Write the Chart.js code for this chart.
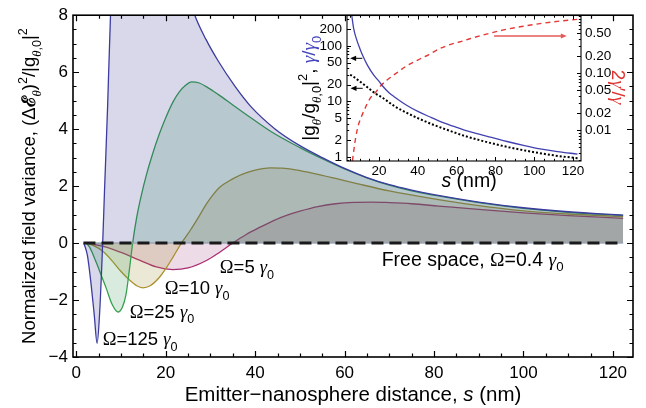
<!DOCTYPE html>
<html><head><meta charset="utf-8">
<script src="https://cdn.jsdelivr.net/npm/chart.js@4.4.1/dist/chart.umd.min.js"></script>
<style>
html,body{margin:0;padding:0;background:#fff;}
#wrap{position:relative;width:646px;height:408px;}
canvas{position:absolute;left:0;top:0;}
</style></head><body>
<div id="wrap"><canvas id="main" width="646" height="408"></canvas><canvas id="inset" width="646" height="408"></canvas></div>
<script>
// ---------------- main panel data ----------------
const mainXTicks = [0, 20, 40, 60, 80, 100, 120];
const mainYTicks = [-4, -2, 0, 2, 4, 6, 8];

const sFree = [1.6, 122.3];
const vFree = [0, 0];

const sW125 = [1.7, 2.5, 3.2, 4.0, 4.65, 5.2, 5.9, 6.3, 7.0, 7.65, 8.5, 10, 13, 16, 20, 23, 26.5, 29, 31.7, 35.5, 39, 44.5, 50, 55, 60, 65, 70, 75, 80, 90, 100, 110, 122.3];
const vW125 = [0, -0.45, -1.3, -2.5, -3.52, -2.5, 0, 1.8, 4.8, 8, 10.5, 12.5, 13.5, 13, 11.5, 9.8, 8, 7.15, 6.4, 5.5, 4.8, 4.0, 3.42, 3.0, 2.62, 2.3, 2.05, 1.86, 1.7, 1.44, 1.24, 1.1, 0.98];

const sW25 = [2.2, 3, 4.4, 5.5, 6.7, 8, 9.3, 10.3, 11.1, 11.9, 12.6, 13.5, 14.5, 15.6, 17, 18.5, 20, 21.6, 23, 24.5, 25.8, 27.5, 29.5, 31.7, 35, 39.2, 43.7, 50, 55, 60, 65, 70, 75, 80, 90, 100, 110, 122.3];
const vW25 = [0, -0.15, -0.66, -1.1, -1.59, -2.15, -2.42, -2.25, -1.82, -0.9, 0, 0.9, 1.65, 2.35, 3.1, 3.8, 4.4, 4.95, 5.3, 5.55, 5.66, 5.62, 5.45, 5.22, 4.85, 4.38, 3.9, 3.35, 2.96, 2.6, 2.29, 2.03, 1.83, 1.68, 1.42, 1.22, 1.08, 0.97];

const sW10 = [2, 4, 6, 8.2, 10, 11.9, 13.5, 14.9, 16.5, 18.6, 20.2, 21.6, 23.5, 25.5, 27.6, 29, 30.6, 32, 33.5, 35.5, 38.1, 40.5, 43.3, 46, 49, 53, 58, 63, 70, 80, 88.8, 100, 110, 122.3];
const vW10 = [0, -0.1, -0.3, -0.66, -1.0, -1.3, -1.5, -1.57, -1.5, -1.2, -0.85, -0.5, 0, 0.45, 0.98, 1.35, 1.7, 1.95, 2.12, 2.3, 2.47, 2.58, 2.64, 2.63, 2.57, 2.45, 2.27, 2.08, 1.83, 1.55, 1.34, 1.13, 1.02, 0.93];

const sW5 = [2, 4, 6.7, 10, 14.1, 17.9, 21.6, 25, 29, 32, 35, 38, 41, 44, 47, 50, 54, 58, 62, 66, 70, 75, 81, 90, 100, 110, 122.3];
const vW5 = [0, -0.05, -0.14, -0.33, -0.6, -0.84, -0.93, -0.87, -0.62, -0.33, 0, 0.3, 0.55, 0.78, 0.97, 1.12, 1.28, 1.38, 1.43, 1.44, 1.42, 1.38, 1.3, 1.18, 1.06, 0.96, 0.87];

// ---------------- inset data ----------------
const insetXTicks = [20, 40, 60, 80, 100, 120];
const insetLeftTicks = [1, 2, 5, 10, 20, 50, 100, 200];
const insetRightTicks = [0.01, 0.02, 0.05, 0.1, 0.2, 0.5];
const insetRightLabels = ['0.01', '0.02', '0.05', '0.10', '0.20', '0.50'];

const sGamma = [5.7, 6, 7, 8.6, 10.2, 12, 14, 17.2, 19.7, 21.5, 25, 28, 34, 40, 46, 52, 58, 64, 70, 78, 86, 95, 103, 112, 122.3];
const vGamma = [400, 340, 200, 125, 88, 62, 45, 30, 23.6, 19.5, 14.5, 12, 8.6, 6.6, 5.3, 4.3, 3.6, 3.05, 2.65, 2.25, 1.9, 1.6, 1.4, 1.25, 1.13];

const sCoupling = [5.1, 6, 10, 14, 18, 22, 28, 34, 40, 48, 56, 64, 72, 80, 90, 100, 110, 122.3];
const vCoupling = [30, 29, 23, 18, 14, 11.5, 8.2, 6.3, 5.0, 3.8, 3.0, 2.4, 2.0, 1.7, 1.42, 1.22, 1.07, 0.95];

const sRatio = [6.3, 8, 9.4, 10.2, 12.5, 15.4, 18, 20.5, 24, 28.4, 34.4, 40, 45.5, 51.4, 57, 63.6, 68.7, 77, 85.9, 95, 103, 112, 122.3];
const vRatio = [0.0029, 0.0075, 0.0125, 0.015, 0.023, 0.036, 0.045, 0.058, 0.075, 0.097, 0.135, 0.17, 0.21, 0.27, 0.32, 0.37, 0.42, 0.5, 0.59, 0.67, 0.74, 0.81, 0.88];

// arrows: [s0, v0, s1, v1] in data units
const arrowGamma = [11.4, 59.6, 5.1, 59.6];
const arrowCoupling = [11.6, 17.2, 5.3, 17.2];
const arrowRatio = [79.3, 0.448, 116.8, 0.448];

// ---------------- helpers ----------------
const FS = '"Liberation Sans", Arial, sans-serif';
const FR = '"Liberation Serif", "Times New Roman", serif';
const toXY = (xs, ys) => xs.map((x, i) => ({x: x, y: ys[i]}));

function fontStr(seg, size) {
  const sz = (seg.sub || seg.sup) ? size * 0.68 : size;
  return (seg.it ? 'italic ' : '') + (seg.b ? 'bold ' : '') + sz.toFixed(1) + 'px ' + (seg.serif ? FR : (seg.dv ? '"DejaVu Serif", serif' : FS));
}
function drawRich(ctx, segs, x, y, size, align, rot) {
  ctx.save();
  ctx.translate(x, y);
  if (rot) ctx.rotate(rot);
  let w = 0;
  segs.forEach(s => { ctx.font = fontStr(s, size); s._w = ctx.measureText(s.t).width; w += s._w; });
  let cx = align === 'center' ? -w / 2 : 0;
  ctx.textBaseline = 'alphabetic';
  ctx.textAlign = 'left';
  segs.forEach(s => {
    ctx.font = fontStr(s, size);
    ctx.fillStyle = s.c || '#000';
    const dy = s.sub ? size * 0.3 : (s.sup ? -size * 0.42 : 0);
    ctx.fillText(s.t, cx, dy);
    cx += s._w;
  });
  ctx.restore();
}
function omegaLabel(num) {
  return [{t: 'Ω', serif: true}, {t: '=' + num + ' '}, {t: 'γ', serif: true, it: true}, {t: '0', sub: true}];
}
const mainLabels = [
  {segs: omegaLabel('125'), s: 5.9, v: -3.59, size: 18.5},
  {segs: omegaLabel('25'), s: 11.95, v: -2.62, size: 18.5},
  {segs: omegaLabel('10'), s: 19.8, v: -1.79, size: 18.5},
  {segs: omegaLabel('5'), s: 32.1, v: -1.06, size: 18.5},
  {segs: [{t: 'Free space, '}].concat(omegaLabel('0.4')), s: 68.3, v: -0.79, size: 19.5}
];

function drawTicks(ctx, area, xs, xMaj, xMin, yL, yLMaj, yLMin, yR, yRMaj, yRMin, LM, Lm, lw) {
  ctx.save();
  ctx.strokeStyle = '#000';
  ctx.lineWidth = lw;
  ctx.beginPath();
  const inY = p => p >= area.top - 0.5 && p <= area.bottom + 0.5;
  const inX = p => p >= area.left - 0.5 && p <= area.right + 0.5;
  const xt = (v, L) => { const p = Math.round(xs.getPixelForValue(v)) + 0.5; if (!inX(p)) return;
    ctx.moveTo(p, area.bottom); ctx.lineTo(p, area.bottom - L); ctx.moveTo(p, area.top); ctx.lineTo(p, area.top + L); };
  const ylt = (v, L) => { const p = Math.round(yL.getPixelForValue(v)) + 0.5; if (!inY(p)) return;
    ctx.moveTo(area.left, p); ctx.lineTo(area.left + L, p); };
  const yrt = (v, L) => { const p = Math.round(yR.getPixelForValue(v)) + 0.5; if (!inY(p)) return;
    ctx.moveTo(area.right, p); ctx.lineTo(area.right - L, p); };
  xMaj.forEach(v => xt(v, LM)); xMin.forEach(v => xt(v, Lm));
  yLMaj.forEach(v => ylt(v, LM)); yLMin.forEach(v => ylt(v, Lm));
  yRMaj.forEach(v => yrt(v, LM)); yRMin.forEach(v => yrt(v, Lm));
  ctx.stroke();
  ctx.restore();
}
function rangeStep(a, b, st, excl) { const r = []; for (let v = a; v <= b + 1e-9; v += st) { const vv = Math.round(v * 1000) / 1000; if (!excl.some(e => Math.abs(e - vv) < 1e-9)) r.push(vv); } return r; }
function logMinor(lo, hi, excl) { const r = []; for (let e = -4; e <= 3; e++) for (let m = 1; m <= 9; m++) { const v = m * Math.pow(10, e); if (v >= lo && v <= hi && !excl.some(x => Math.abs(x - v) / v < 1e-6)) r.push(v); } return r; }

// ---------------- main chart ----------------
const common = {pointRadius: 0, borderWidth: 1.3, cubicInterpolationMode: 'monotone', tension: 0.4};
const mainChart = new Chart(document.getElementById('main'), {
  type: 'line',
  data: {datasets: [
    Object.assign({}, common, {data: toXY(sFree, vFree), borderColor: '#1a1a1a', borderWidth: 3, borderDash: [12, 6], fill: false, order: 0, cubicInterpolationMode: 'default', tension: 0}),
    Object.assign({}, common, {data: toXY(sFree, vFree), borderColor: 'rgba(150,160,180,0.9)', borderWidth: 1.5, fill: false, order: 1, cubicInterpolationMode: 'default', tension: 0}),
    Object.assign({}, common, {data: toXY(sW125, vW125), borderColor: 'rgb(60,60,160)', backgroundColor: 'rgba(40,40,138,0.18)', fill: 'origin', order: 2}),
    Object.assign({}, common, {data: toXY(sW25, vW25), borderColor: 'rgb(55,160,80)', backgroundColor: 'rgba(61,153,92,0.2)', fill: 'origin', order: 3}),
    Object.assign({}, common, {data: toXY(sW10, vW10), borderColor: 'rgb(170,145,45)', backgroundColor: 'rgba(160,140,50,0.2)', fill: 'origin', order: 4}),
    Object.assign({}, common, {data: toXY(sW5, vW5), borderColor: 'rgb(170,45,115)', backgroundColor: 'rgba(153,61,120,0.18)', fill: 'origin', order: 5})
  ]},
  options: {
    responsive: false, animation: false, devicePixelRatio: 1,
    elements: {line: {capBezierPoints: false}},
    layout: {padding: {top: 11, right: 13, left: 0, bottom: 0}},
    plugins: {legend: {display: false}, tooltip: {enabled: false}},
    scales: {
      x: {type: 'linear', min: -0.74, max: 124.5,
        afterBuildTicks: s => { s.ticks = mainXTicks.map(v => ({value: v})); },
        afterFit: s => { s.height = 51; },
        ticks: {font: {family: FS, size: 17}, color: '#000', padding: 6, maxRotation: 0, autoSkip: false},
        grid: {display: false, drawTicks: false}, border: {display: false}},
      y: {type: 'linear', min: -4, max: 8,
        afterBuildTicks: s => { s.ticks = mainYTicks.map(v => ({value: v})); },
        afterFit: s => { s.width = 73; },
        ticks: {font: {family: FS, size: 17}, color: '#000', padding: 5, autoSkip: false,
          callback: v => (v < 0 ? '\u2212' + Math.abs(v) : String(v))},
        grid: {display: false, drawTicks: false}, border: {display: false}}
    }
  },
  plugins: [{
    id: 'mainDeco',
    afterDraw(chart) {
      const ctx = chart.ctx, a = chart.chartArea, xs = chart.scales.x, ys = chart.scales.y;
      drawTicks(ctx, a, xs, mainXTicks, rangeStep(0, 124, 5, mainXTicks), ys, mainYTicks, rangeStep(-4, 8, 0.5, mainYTicks), ys, mainYTicks, rangeStep(-4, 8, 0.5, mainYTicks), 6, 3.5, 1.2);
      ctx.save();
      ctx.strokeStyle = '#000'; ctx.lineWidth = 1.6;
      ctx.strokeRect(a.left, a.top, a.right - a.left, a.bottom - a.top);
      ctx.restore();
      mainLabels.forEach(l => drawRich(ctx, l.segs, xs.getPixelForValue(l.s), ys.getPixelForValue(l.v), l.size, 'left', 0));
      // axis titles
      drawRich(ctx, [{t: 'Emitter\u2212nanosphere distance, '}, {t: 's', it: true}, {t: ' (nm)'}], (a.left + a.right) / 2, 401, 20.5, 'center', 0);
      drawRich(ctx, [{t: 'Normalized field variance, (\u0394'}, {t: '\u2130', b: true, dv: true}, {t: '\u03b8', sub: true, serif: true, it: true}, {t: ')'}, {t: '2', sup: true}, {t: '/|g'}, {t: '\u03b8', sub: true, serif: true, it: true}, {t: ',0', sub: true}, {t: '|'}, {t: '2', sup: true}], 35, (a.top + a.bottom) / 2, 18.5, 'center', -Math.PI / 2);
    }
  }]
});

// ---------------- inset chart ----------------
const insetChart = new Chart(document.getElementById('inset'), {
  type: 'line',
  data: {datasets: [
    Object.assign({}, common, {data: toXY(sGamma, vGamma), yAxisID: 'yL', borderColor: 'rgb(65,65,175)', borderWidth: 1.3, fill: false}),
    Object.assign({}, common, {data: toXY(sCoupling, vCoupling), yAxisID: 'yL', borderColor: '#000', borderWidth: 2, borderDash: [2, 2], fill: false}),
    Object.assign({}, common, {data: toXY(sRatio, vRatio), yAxisID: 'yR', borderColor: 'rgb(228,55,55)', borderWidth: 1.4, borderDash: [5, 4], fill: false})
  ]},
  options: {
    responsive: false, animation: false, devicePixelRatio: 1,
    elements: {line: {capBezierPoints: false}},
    layout: {padding: {top: 15.5, right: 0, left: 0, bottom: 0}},
    plugins: {legend: {display: false}, tooltip: {enabled: false}},
    scales: {
      x: {type: 'linear', min: 3.5, max: 124.1,
        afterBuildTicks: s => { s.ticks = insetXTicks.map(v => ({value: v})); },
        afterFit: s => { s.height = 408 - 161; },
        ticks: {font: {family: FS, size: 13.5}, color: '#000', padding: 2, maxRotation: 0, autoSkip: false},
        grid: {display: false, drawTicks: false}, border: {display: false}},
      yL: {type: 'logarithmic', position: 'left', min: 0.847, max: 351,
        afterBuildTicks: s => { s.ticks = insetLeftTicks.map(v => ({value: v, major: false})); },
        afterFit: s => { s.width = 347; },
        ticks: {font: {family: FS, size: 13.5}, color: '#000', padding: 5, autoSkip: false, callback: v => String(v)},
        grid: {display: false, drawTicks: false}, border: {display: false}},
      yR: {type: 'logarithmic', position: 'right', min: 0.00288, max: 1.026,
        afterBuildTicks: s => { s.ticks = insetRightTicks.map(v => ({value: v, major: false})); },
        afterFit: s => { s.width = 646 - 581; },
        ticks: {font: {family: FS, size: 13.5}, color: '#000', padding: 4, autoSkip: false,
          callback: v => { const i = insetRightTicks.findIndex(t => Math.abs(t - v) / t < 1e-6); return i >= 0 ? insetRightLabels[i] : ''; }},
        grid: {display: false, drawTicks: false}, border: {display: false}}
    }
  },
  plugins: [{
    id: 'insetDeco',
    beforeDatasetsDraw(chart) {
      const ctx = chart.ctx, a = chart.chartArea;
      ctx.save(); ctx.fillStyle = '#fff'; ctx.fillRect(a.left, a.top, a.right - a.left, a.bottom - a.top); ctx.restore();
    },
    afterDraw(chart) {
      const ctx = chart.ctx, a = chart.chartArea, xs = chart.scales.x, yL = chart.scales.yL, yR = chart.scales.yR;
      drawTicks(ctx, a, xs, insetXTicks, rangeStep(5, 124, 5, insetXTicks), yL, insetLeftTicks, logMinor(0.85, 350, insetLeftTicks), yR, insetRightTicks, logMinor(0.0029, 1.02, insetRightTicks), 4, 2.2, 1);
      ctx.save(); ctx.strokeStyle = '#000'; ctx.lineWidth = 1.1;
      ctx.strokeRect(a.left, a.top, a.right - a.left, a.bottom - a.top); ctx.restore();
      const arrow = (arr, ys, color, lw) => {
        const x0 = xs.getPixelForValue(arr[0]), y0 = ys.getPixelForValue(arr[1]);
        const x1 = xs.getPixelForValue(arr[2]), y1 = ys.getPixelForValue(arr[3]);
        const dir = Math.sign(x1 - x0);
        ctx.save(); ctx.strokeStyle = color; ctx.fillStyle = color; ctx.lineWidth = lw;
        ctx.beginPath(); ctx.moveTo(x0, y0); ctx.lineTo(x1 - dir * 4, y1); ctx.stroke();
        ctx.beginPath(); ctx.moveTo(x1, y1); ctx.lineTo(x1 - dir * 6, y1 - 2.6); ctx.lineTo(x1 - dir * 6, y1 + 2.6); ctx.closePath(); ctx.fill();
        ctx.restore();
      };
      arrow(arrowGamma, yL, '#000', 1);
      arrow(arrowCoupling, yL, '#000', 1);
      arrow(arrowRatio, yR, 'rgb(230,90,90)', 1.6);
      // titles
      drawRich(ctx, [{t: 's', it: true}, {t: ' (nm)'}], 469, 187, 19.5, 'center', 0);
      const blue = 'rgb(70,70,190)';
      drawRich(ctx, [{t: '|g'}, {t: '\u03b8', sub: true, serif: true, it: true}, {t: '/g'}, {t: '\u03b8', sub: true, serif: true, it: true}, {t: ',0', sub: true}, {t: '|'}, {t: '2', sup: true}, {t: ', '},
        {t: '\u03b3', serif: true, it: true, c: blue}, {t: '/', c: blue}, {t: '\u03b3', serif: true, it: true, c: blue}, {t: '0', sub: true, c: blue}], 315, (a.top + a.bottom) / 2, 19, 'center', -Math.PI / 2);
      const red = 'rgb(225,50,50)';
      drawRich(ctx, [{t: '2', c: red}, {t: '\u03b3', serif: true, it: true, c: red}, {t: '\u2032', c: red}, {t: '/', c: red}, {t: '\u03b3', serif: true, it: true, c: red}], 612, 87, 19, 'center', Math.PI / 2);
    }
  }]
});
</script>
</body></html>
